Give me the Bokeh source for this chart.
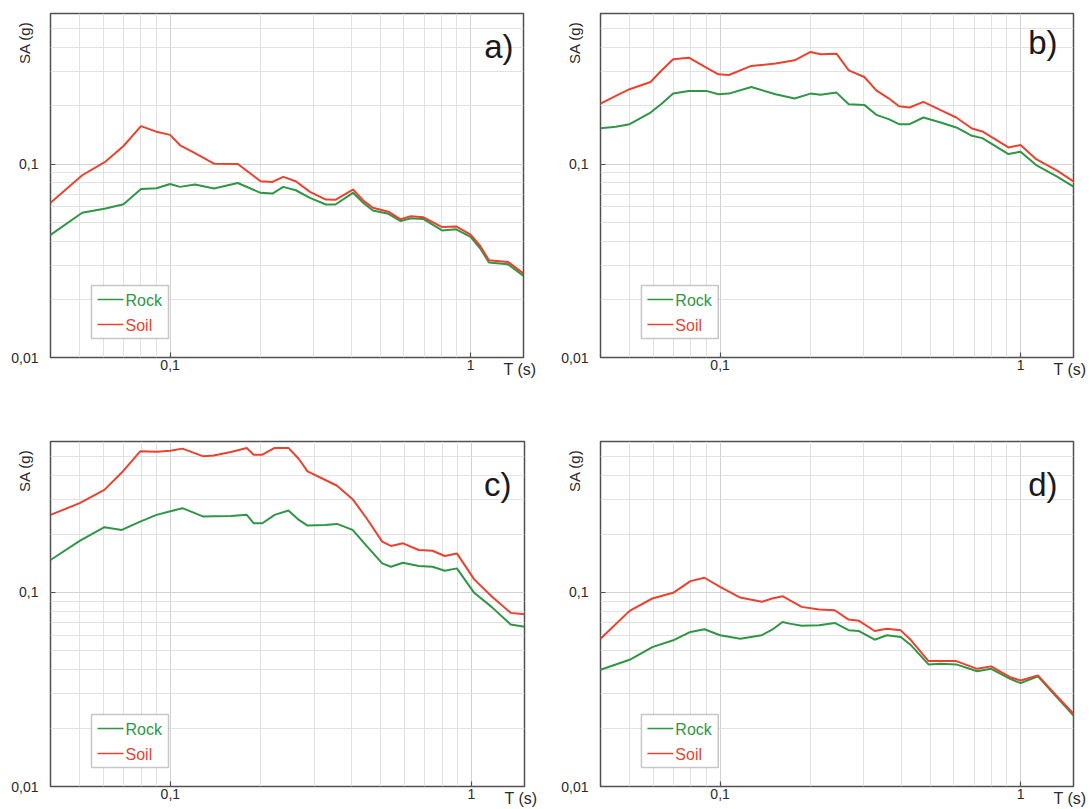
import math
from bokeh.plotting import figure
from bokeh.models import FixedTicker, Label, BoxAnnotation, CustomJSTickFormatter
from bokeh.layouts import column, row
from bokeh.embed import file_html
from bokeh.resources import INLINE

# ---------------- data ----------------
T_a = [0.04, 0.051, 0.061, 0.07, 0.08, 0.09, 0.1, 0.108, 0.121, 0.14, 0.168, 0.2, 0.219, 0.238,
       0.262, 0.292, 0.33, 0.355, 0.406, 0.442, 0.473, 0.533, 0.585, 0.633, 0.695, 0.804, 0.895,
       1.0, 1.077, 1.151, 1.332, 1.5]
rock_a = [0.043, 0.056, 0.0589, 0.062, 0.0743, 0.0749, 0.0789, 0.0762, 0.0783, 0.0747, 0.0798,
          0.0710, 0.0704, 0.0762, 0.0732, 0.0668, 0.0618, 0.0618, 0.0710, 0.0625, 0.0575, 0.0553,
          0.0507, 0.0525, 0.052, 0.0454, 0.046, 0.042, 0.0366, 0.031, 0.0303, 0.0264]
soil_a = [0.063, 0.0875, 0.103, 0.124, 0.157, 0.147, 0.1415, 0.125, 0.114, 0.1004, 0.100, 0.0815,
          0.0808, 0.0858, 0.0815, 0.0718, 0.0655, 0.0653, 0.0738, 0.0643, 0.0594, 0.0567, 0.0518,
          0.0538, 0.0531, 0.0472, 0.0476, 0.0432, 0.0377, 0.0318, 0.0312, 0.0272]

T_b = [0.04, 0.045, 0.05, 0.0587, 0.0636, 0.0698, 0.0787, 0.09, 0.0987, 0.107, 0.127, 0.153, 0.177,
       0.2, 0.216, 0.244, 0.268, 0.302, 0.331, 0.364, 0.394, 0.427, 0.475, 0.542, 0.611, 0.689,
       0.746, 0.911, 1.0, 1.127, 1.323, 1.5]
rock_b = [0.1533, 0.1557, 0.1607, 0.1846, 0.2039, 0.2313, 0.2388, 0.2388, 0.2295, 0.2313, 0.2503,
          0.2295, 0.2181, 0.2313, 0.228, 0.234, 0.2039, 0.2022, 0.1796, 0.1706, 0.1607, 0.1607,
          0.174, 0.164, 0.1545, 0.14, 0.1361, 0.1126, 0.1158, 0.0988, 0.0861, 0.0764]
soil_b = [0.2055, 0.225, 0.2437, 0.2655, 0.3027, 0.3477, 0.3548, 0.315, 0.291, 0.2885, 0.3215,
          0.3305, 0.3437, 0.3795, 0.369, 0.372, 0.305, 0.2818, 0.2405, 0.2187, 0.199, 0.1959,
          0.2094, 0.19, 0.174, 0.1527, 0.1474, 0.1219, 0.1253, 0.106, 0.0924, 0.0814]

T_c = [0.04, 0.05, 0.0604, 0.069, 0.0794, 0.09, 0.1, 0.1097, 0.1288, 0.1393, 0.159, 0.1794, 0.189,
       0.2021, 0.222, 0.2467, 0.2672, 0.2855, 0.326, 0.3578, 0.403, 0.4484, 0.5053, 0.54, 0.5928,
       0.668, 0.7427, 0.815, 0.8945, 1.021, 1.166, 1.35, 1.5]
rock_c = [0.147, 0.1843, 0.2169, 0.2101, 0.232, 0.2512, 0.262, 0.272, 0.2461, 0.247, 0.248, 0.2512,
          0.2275, 0.2275, 0.2512, 0.2645, 0.2366, 0.2212, 0.2227, 0.2257, 0.2101, 0.1737, 0.1413,
          0.1358, 0.1423, 0.1369, 0.1358, 0.1295, 0.1331, 0.0996, 0.0843, 0.0683, 0.0665]
soil_c = [0.2512, 0.2886, 0.338, 0.415, 0.534, 0.532, 0.538, 0.5513, 0.503, 0.508, 0.5298, 0.556,
          0.5132, 0.513, 0.556, 0.556, 0.4875, 0.4207, 0.381, 0.3548, 0.3027, 0.2414, 0.1828,
          0.1737, 0.1792, 0.1655, 0.164, 0.1542, 0.159, 0.1168, 0.0957, 0.0785, 0.0773]

T_d = [0.04, 0.05, 0.0595, 0.0698, 0.0797, 0.0887, 0.1, 0.1167, 0.1376, 0.149, 0.1614, 0.1703,
       0.1869, 0.2136, 0.2407, 0.2678, 0.29, 0.327, 0.3588, 0.3993, 0.4322, 0.4939, 0.542, 0.611,
       0.717, 0.7975, 0.923, 1.0, 1.142, 1.305, 1.5]
rock_d = [0.040, 0.045, 0.0523, 0.0567, 0.0626, 0.0646, 0.0602, 0.0578, 0.0602, 0.0643, 0.0705,
          0.0691, 0.0673, 0.0677, 0.0697, 0.0639, 0.0633, 0.0571, 0.0602, 0.059, 0.0534, 0.0426,
          0.0429, 0.0426, 0.0393, 0.0404, 0.0359, 0.0341, 0.037, 0.0294, 0.0232]
soil_d = [0.0578, 0.0804, 0.0931, 0.0996, 0.1144, 0.1191, 0.107, 0.0942, 0.0895, 0.0931, 0.0957,
          0.0913, 0.0843, 0.0817, 0.081, 0.0725, 0.0714, 0.0633, 0.0651, 0.0638, 0.0567, 0.0443,
          0.0443, 0.0443, 0.0404, 0.0416, 0.0366, 0.0352, 0.0374, 0.0298, 0.0237]

panel_letters = ["a)", "b)", "c)", "d)"]
series_names = ["Rock", "Soil"]
x_major = [0.1, 1]
x_minor = [0.04, 0.05, 0.06, 0.07, 0.08, 0.09, 0.2, 0.3, 0.4, 0.5, 0.6, 0.7, 0.8, 0.9]
y_major = [0.01, 0.1]
y_minor = [0.02, 0.03, 0.04, 0.05, 0.06, 0.07, 0.08, 0.09, 0.2, 0.3, 0.4, 0.5]

# ---------------- style ----------------
X_RANGE = (0.04, 1.5)
Y_RANGE = (0.01, 0.6)
FONT = "Liberation Sans"
GREEN = "#2f9646"
RED = "#e8432f"
FRAME = "#505050"
TXT = "#2a2a2a"


def make_panel(T, rock, soil, letter, width, height, bl, br, bt, bb, ldx, ldy, t_dy,
               sa_side, t_side):
    W = width - bl - br
    H = height - bt - bb
    lx0, lx1 = math.log10(X_RANGE[0]), math.log10(X_RANGE[1])
    ly0, ly1 = math.log10(Y_RANGE[0]), math.log10(Y_RANGE[1])

    def xd(px):
        return 10 ** (lx0 + px / W * (lx1 - lx0))

    def yd(py):
        return 10 ** (ly0 + py / H * (ly1 - ly0))

    p = figure(width=width, height=height, x_axis_type="log", y_axis_type="log",
               x_range=X_RANGE, y_range=Y_RANGE, output_backend="svg",
               toolbar_location=None, min_border_left=bl, min_border_right=br,
               min_border_top=bt, min_border_bottom=bb)
    p.background_fill_color = "white"
    p.border_fill_color = "white"
    p.outline_line_color = FRAME
    p.outline_line_width = 1.5

    fmt = CustomJSTickFormatter(code="return String(tick).replace('.', ',');")
    p.xaxis.ticker = FixedTicker(ticks=x_major, minor_ticks=x_minor)
    p.yaxis.ticker = FixedTicker(ticks=y_major, minor_ticks=y_minor)
    for ax in (p.xaxis, p.yaxis):
        ax.formatter = fmt
        ax.axis_line_color = None
        ax.major_tick_in = 5
        ax.major_tick_out = 0
        ax.minor_tick_in = 0
        ax.minor_tick_out = 0
        ax.major_tick_line_color = FRAME
        ax.major_tick_line_width = 1.2
        ax.major_label_text_font = FONT
        ax.major_label_text_font_size = "14px"
        ax.major_label_text_color = TXT
    p.xaxis.major_label_standoff = 2
    p.yaxis.major_label_standoff = 12

    for g in (p.xgrid, p.ygrid):
        g.grid_line_color = "#d2d2d2"
        g.grid_line_width = 1
        g.minor_grid_line_color = "#e2e2e2"
        g.minor_grid_line_width = 1

    p.line(T, rock, line_color=GREEN, line_width=2)
    p.line(T, soil, line_color=RED, line_width=2)

    # legend (manual, so that each label keeps its series colour)
    box = BoxAnnotation(left=xd(41), right=xd(118), bottom=yd(19), top=yd(72),
                        fill_color="white", fill_alpha=1, line_color="#444444",
                        line_width=1.5, level="underlay")
    p.add_layout(box)
    for name, color, ly in ((series_names[0], GREEN, 58), (series_names[1], RED, 33)):
        p.line([xd(47), xd(73)], [yd(ly), yd(ly)], line_color=color, line_width=1.6)
        p.add_layout(Label(x=xd(75), y=yd(ly - 1), text=name, text_color=color,
                           text_font=FONT, text_font_size="16px", text_baseline="middle",
                           text_align="left"))

    p.add_layout(Label(x=xd(W - ldx), y=yd(H - ldy), text=letter, text_align="right",
                       text_baseline="top", text_font=FONT, text_font_size="33px",
                       text_color="#1a1a1a"))
    # texts outside the frame go to side panels with free room (not clipped to the frame)
    p.add_layout(Label(x=X_RANGE[0], x_offset=-26, y=Y_RANGE[1], y_offset=-8,
                       angle=math.pi / 2, text="SA (g)", text_align="right",
                       text_baseline="middle", text_font=FONT, text_font_size="15px",
                       text_color=TXT), sa_side)
    p.add_layout(Label(x=X_RANGE[1], x_offset=-20, y=Y_RANGE[0], y_offset=-t_dy,
                       text="T (s)", text_align="left", text_baseline="middle",
                       text_font=FONT, text_font_size="16px", text_color=TXT), t_side)
    return p


pa = make_panel(T_a, rock_a, soil_a, panel_letters[0], 545, 420, 50, 22, 13, 63, 10, 14, 12,
                "right", "below")
pb = make_panel(T_b, rock_b, soil_b, panel_letters[1], 545, 420, 55, 16, 13, 63, 16, 10, 12,
                "right", "below")
pc = make_panel(T_c, rock_c, soil_c, panel_letters[2], 545, 389, 50, 21, 21, 23, 13, 24, 12,
                "right", "above")
pd = make_panel(T_d, rock_d, soil_d, panel_letters[3], 545, 389, 55, 16, 21, 23, 16, 24, 12,
                "right", "above")

layout = column(row(pa, pb), row(pc, pd))
open("out.html", "w").write(file_html(layout, INLINE))
